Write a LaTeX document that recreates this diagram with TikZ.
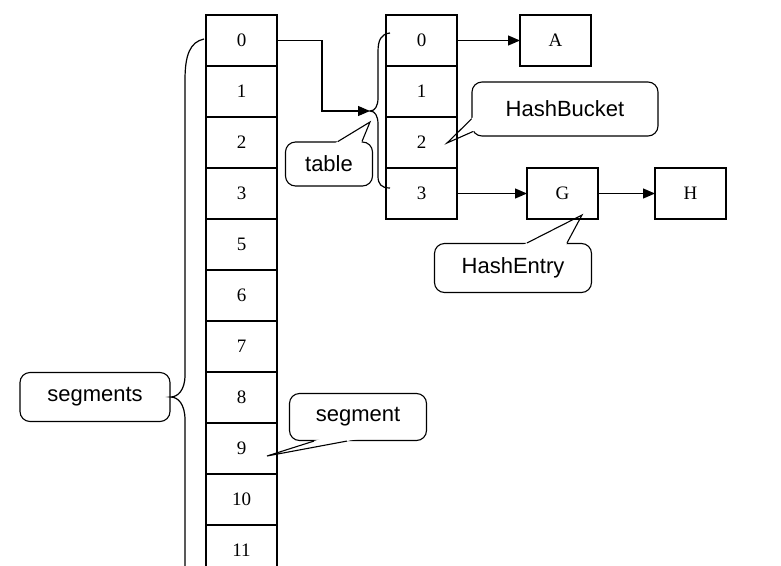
\documentclass[tikz,border=0pt]{standalone}
\usepackage{fontspec}
\setmainfont{Liberation Serif}
\newfontfamily\notefont{Liberation Sans}
\usetikzlibrary{arrows.meta,positioning,calc}
\tikzset{
  cell/.style={draw, line width=1.2pt, minimum width=71pt, minimum height=51pt,
               inner sep=0pt, outer sep=0pt, font=\fontsize{19}{22}\selectfont},
  note/.style={draw, rounded corners=10pt, fill=white, line width=1.1pt,
               inner sep=0pt, font=\notefont\fontsize{22}{26}\selectfont},
  ar/.style={-{Triangle[length=12pt,width=10pt]}, line width=1.2pt},
  brace/.style={line width=1.2pt},
}

\begin{document}
\begin{tikzpicture}[x=1pt, y=-1pt]
  \useasboundingbox (0,0) rectangle (781,565);
  \clip (0,0) rectangle (781,565);

  % callouts
  \node[note, minimum width=87pt, minimum height=44pt] (tbl) at (329,164) {table};
  \node[note, minimum width=186pt, minimum height=54pt] (hb) at (565,109) {HashBucket};
  \node[note, minimum width=157pt, minimum height=49pt] (he) at (513,268) {HashEntry};
  \node[note, minimum width=150pt, minimum height=49pt] (sgs) at (95,397) {segments};
  \node[note, minimum width=137pt, minimum height=47pt] (sg) at (358,417) {segment};

  \coordinate (tbltip) at (370,122);
  \coordinate (tbl1) at ($(tbl.north)+(9,0)$);
  \coordinate (tbl2) at ($(tbl.north)+(33,0)$);
  \coordinate (hbtip) at (447,143);
  \coordinate (hb1) at ($(hb.west)+(0,10)$);
  \coordinate (hb2) at ($(hb.south west)+(1.5,-5)$);
  \coordinate (hetip) at (582,215);
  \coordinate (he1) at ($(he.north)+(14,0)$);
  \coordinate (he2) at ($(he.north)+(54,0)$);
  \coordinate (sgtip) at (267,456);
  \coordinate (sg1) at ($(sg.south)+(-44,0)$);
  \coordinate (sg2) at ($(sg.south)+(-11,0)$);
  \foreach \t/\p/\q in {tbltip/tbl1/tbl2, hbtip/hb1/hb2, hetip/he1/he2, sgtip/sg1/sg2} {
    \fill[white] (\t) -- ($(\t)!1.15!(\p)$) -- ($(\t)!1.15!(\q)$) -- cycle;
    \draw[line width=1.1pt] (\p) -- (\t) -- (\q);
  }

  % segments column
  \foreach \lab [count=\i from 0] in {0,1,2,3,5,6,7,8,9,10,11}
    \node[cell] (s\i) at (241.5,{40.5+51*\i}) {\lab};

  % table column
  \foreach \i in {0,...,3}
    \node[cell] (b\i) at (421.5,{40.5+51*\i}) {\i};

  \node[cell, right=63pt of b0] (A) {A};
  \node[cell, right=70pt of b3] (G) {G};
  \node[cell, right=57pt of G] (H) {H};

  % braces
  \coordinate (tbrace) at (370,111);
  \draw[brace] (390,33) .. controls (381,34) and (378,40) .. (378,52) -- (378,98)
    .. controls (378,106) and (375,111) .. (tbrace)
    .. controls (375,111) and (378,116) .. (378,124) -- (378,176)
    .. controls (378,184) and (381,188) .. (390,188);
  \draw[brace] (204,39) .. controls (190,42) and (185,55) .. (185,80) -- (185,375)
    .. controls (185,390) and (178,397) .. (sgs.east)
    .. controls (178,397) and (185,404) .. (185,420) -- (185,600);

  \draw[ar] (s0.east) -- ++(45,0) |- (tbrace);
  \draw[ar] (b0) -- (A);
  \draw[ar] (b3) -- (G);
  \draw[ar] (G) -- (H);
\end{tikzpicture}
\end{document}
